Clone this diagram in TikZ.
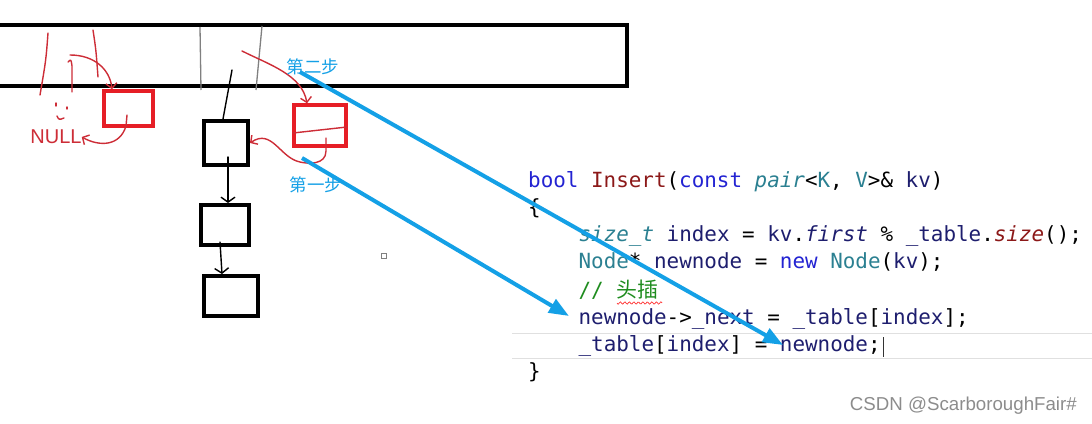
\documentclass[tikz,border=0pt]{standalone}
\usepackage{fontspec}
\setmainfont{Liberation Sans}
\newfontfamily\cjk{Noto Sans CJK SC}
\newfontfamily\codefont{DejaVu Sans Mono}
\usetikzlibrary{arrows.meta}
\definecolor{stepblue}{RGB}{20,160,230}
\definecolor{boxred}{RGB}{230,30,38}
\definecolor{penred}{RGB}{205,45,55}
\definecolor{codekw}{RGB}{35,35,210}
\definecolor{codefn}{RGB}{140,25,25}
\definecolor{codety}{RGB}{43,128,145}
\definecolor{codevar}{RGB}{30,30,110}
\definecolor{codecm}{RGB}{30,140,30}
\newcommand\ckw[1]{\textcolor{codekw}{#1}}
\newcommand\cfn[1]{\textcolor{codefn}{#1}}
\newcommand\cty[1]{\textcolor{codety}{#1}}
\newcommand\cvar[1]{\textcolor{codevar}{#1}}
\begin{document}
\begin{tikzpicture}[x=1pt,y=-1pt]

      \tikzset{blackbox/.style={draw, line width=4pt, inner sep=0pt},
               redbox/.style={draw=boxred, line width=3.5pt, inner sep=0pt},
               pen/.style={draw=penred, line width=1.4pt, line cap=round, line join=round},
               penarrow/.style={pen, -{Straight Barb[length=5pt, width=11pt]}},
               inkarrow/.style={line width=1.4pt, line cap=round, -{Straight Barb[length=5pt, width=14pt]}},
               steparrow/.style={draw=stepblue, line width=4pt, -{Triangle[length=20pt, width=15pt]}},
               steplabel/.style={text=stepblue, font=\cjk\fontsize{17.5}{20}\selectfont, inner sep=0pt},
               codeline/.style={anchor=base west, inner sep=0pt, font=\codefont\fontsize{20.9}{25}\selectfont\frenchspacing}}
      \useasboundingbox (0,0) rectangle (1092,423);
%% Table
      	\draw[line width=4pt] (-10,25) -- (627,25) -- (627,86) -- (-10,86);
      	\draw[gray, line width=1.3pt] (200,27) -- (201,90);
      	\draw[gray, line width=1.3pt] (262,26) -- (256,90);
%% Buckets
      	\node[redbox, minimum width=49pt, minimum height=35pt] (r1) at (128.5,108.5) {};
      	\node[redbox, minimum width=52pt, minimum height=41pt] (r2) at (320,125.5) {};
      	\node[blackbox, minimum width=44pt, minimum height=44pt] (b1) at (226,143) {};
      	\node[blackbox, minimum width=48pt, minimum height=40pt] (b2) at (225,225) {};
      	\node[blackbox, minimum width=54pt, minimum height=40pt] (b3) at (231,296) {};
      	\node[text=penred, font=\fontsize{20}{22}\selectfont, inner sep=0pt] (null) at (56,137) {NULL};
%% Hand strokes
      	\draw[pen] (48,33) .. controls (46,60) .. (40,95);
      	\draw[pen] (93,30) .. controls (96,50) .. (98,77);
      	\draw[pen] (68,62) .. controls (71,59) .. (72,66) -- (72,92);
      	\draw[pen] (56,103) -- (56,106);
      	\draw[pen] (67,107) -- (67,109);
      	\draw[pen] (57,116) .. controls (59,120) .. (64,118);
      	\draw[penarrow] (70,55) .. controls (95,55) and (110,70) .. (r1.north west -| 112,88);
      	\draw[penarrow] (127,115) -- (126,126) .. controls (120,146) and (100,147) .. (null.east);
      	\draw[penarrow] (242,51) .. controls (270,65) and (302,75) .. (r2.north -| 307,102);
      	\draw[pen] (293,133) -- (347,127);
      	\draw[penarrow] (326,138) -- (326,151) .. controls (326,165) and (308,164) .. (300,162)
      	    .. controls (280,158) and (272,128) .. (b1.east);
%% Chain
      	\draw[line width=1.4pt, line cap=round] (232,70) -- (b1.north -| 223,121);
      	\draw[inkarrow] (228,157) -- (b2.north -| 228,184);
      	\draw[inkarrow] (220,242) -- (b3.north -| 222,273);
      	\draw[gray, line width=0.8pt] (381.5,253.5) rectangle (386.5,258.5);
%% Code
      	\node[codeline] (c1) at (528,187) {\ckw{bool} \cfn{Insert}(\ckw{const} \cty{\itshape pair}<\cty{K}, \cty{V}>\& \cvar{kv})};
      	\node[codeline] (c2) at (528,214) {\{};
      	\node[codeline] (c3) at (578.4,241) {\cty{\itshape size\_t} \cvar{index} = \cvar{kv}.\cvar{\itshape first} \% \cvar{\_table}.\cfn{\itshape size}();};
      	\node[codeline] (c4) at (578.4,268) {\cty{Node}* \cvar{newnode} = \ckw{new} \cty{Node}(\cvar{kv});};
      	\node[codeline] (c5) at (578.4,297) {\textcolor{codecm}{// {\cjk 头插}}};
      	\node[codeline] (c6) at (578.4,324) {\cvar{newnode}->\cvar{\_next} = \cvar{\_table}[\cvar{index}];};
      	\node[codeline] (c7) at (578.4,351) {\cvar{\_table}[\cvar{index}] = \cvar{newnode};};
      	\node[codeline] (c8) at (528,378) {\}};
      	\draw[black!12, line width=1pt] (512,333) -- (1092,333);
      	\draw[black!12, line width=1pt] (512,358) -- (1092,358);
      	\draw[black!80, line width=0.8pt] (883,337) -- (883,357);
      	\draw[red!80, line width=0.7pt] plot[domain=0:45, samples=40] ({617+\x}, {303+1.2*sin(\x*80)});
%% Steps
      	\node[steplabel] (l2) at (313,67) {第二步};
      	\node[steplabel] (l1) at (316,185) {第一步};
      	\coordinate (s2) at (300,72);
      	\coordinate (e2) at (783,345);
      	\coordinate (s1) at (302,158);
      	\coordinate (e1) at (569,316);
		\draw [steparrow] (s2) -- (e2);
		\draw [steparrow] (s1) -- (e1);
      	\node[text=black!45, font=\fontsize{18.7}{20}\selectfont, anchor=base east, inner sep=0pt] (mark) at (1077,410) {CSDN @ScarboroughFair\#};

	\end{tikzpicture}
\end{document}
